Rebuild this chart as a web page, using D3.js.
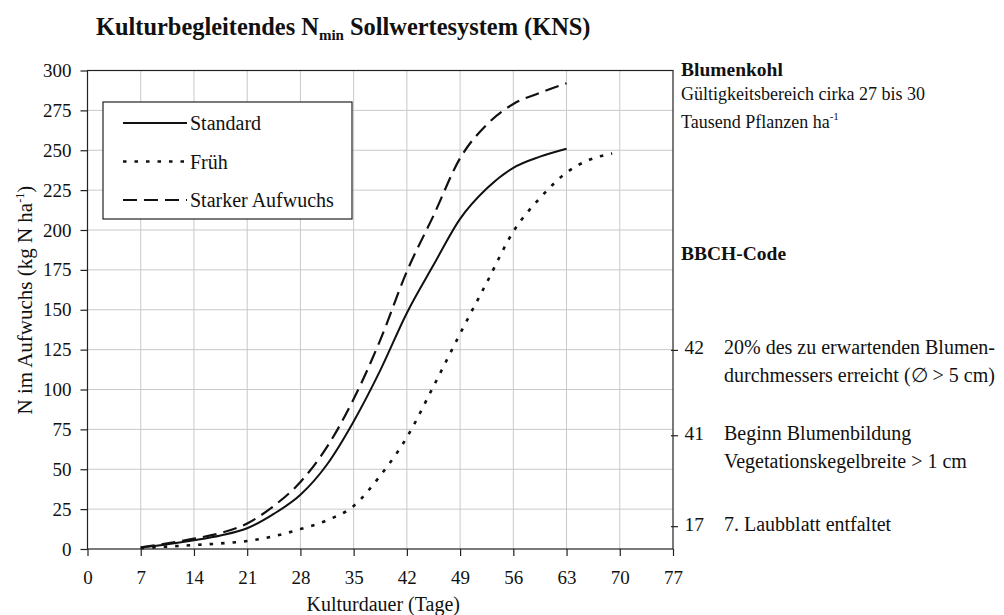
<!DOCTYPE html>
<html>
<head>
<meta charset="utf-8">
<script src="https://cdn.jsdelivr.net/npm/d3@7"></script>
<style>
  body { margin: 0; background: #fff; }
  svg { display: block; }
  text { font-family: "Liberation Serif", "Times New Roman", serif; fill: #111; }
</style>
</head>
<body>
<div id="chart"></div>
<script>
// days of cultivation at which the curves were read
const daysMain = [7, 10.5, 14, 17.5, 21, 24.5, 28, 31.5, 35, 38.5, 42, 45.5, 49, 52.5, 56, 59.5, 63]
const daysEarly = [7, 10.5, 14, 17.5, 21, 24.5, 28, 31.5, 35, 38.5, 42, 45.5, 49, 52.5, 56, 59.5, 63, 66, 69]

// N uptake (kg N/ha)
const standardValues = [1, 3, 5.5, 8.5, 13, 22, 34, 53, 80, 112, 148, 178, 207, 226, 239, 246, 251]
const strongValues = [1, 3.5, 6.5, 10, 16, 27, 42, 64, 94, 131, 174, 209, 245, 266, 279, 286, 292]
const earlyValues = [0.5, 1.5, 2.5, 3.5, 5, 8, 12.5, 18, 27, 46, 70, 102, 135, 167, 199, 220, 236, 244, 248]

const xTicks = [0, 7, 14, 21, 28, 35, 42, 49, 56, 63, 70, 77]
const yTicks = [0, 25, 50, 75, 100, 125, 150, 175, 200, 225, 250, 275, 300]

const seriesNames = ["Standard", "Früh", "Starker Aufwuchs"]

// BBCH stages marked on the right axis
const bbchCodes = ["17", "41", "42"]
const bbchLevels = [14, 71, 124.5]
const bbchTexts = [
  ["7. Laubblatt entfaltet"],
  ["Beginn Blumenbildung", "Vegetationskegelbreite > 1 cm"],
  ["20% des zu erwartenden Blumen-", "durchmessers erreicht  (∅ > 5 cm)"]
]

const config = {
  width: 1004,
  height: 615,
  margin: { top: 70.5, left: 87.5, right: 331, bottom: 66 },
  gridColor: "#c9c9c9",
  tickFont: 19,
  textFont: 20
}

const svg = d3.select("#chart").append("svg")
  .attr("width", config.width)
  .attr("height", config.height)

const plotW = config.width - config.margin.left - config.margin.right
const plotH = config.height - config.margin.top - config.margin.bottom

const x = d3.scaleLinear().domain([0, 77]).range([config.margin.left, config.margin.left + plotW])
const y = d3.scaleLinear().domain([0, 300]).range([config.margin.top + plotH, config.margin.top])

// grid
const grid = svg.append("g").attr("class", "grid")
grid.selectAll(".vgrid")
  .data(xTicks.slice(1, -1))
  .enter().append("line")
    .attr("x1", d => x(d)).attr("x2", d => x(d))
    .attr("y1", y(0)).attr("y2", y(300))
    .attr("stroke", config.gridColor)
grid.selectAll(".hgrid")
  .data(yTicks.slice(1, -1))
  .enter().append("line")
    .attr("x1", x(0)).attr("x2", x(77))
    .attr("y1", d => y(d)).attr("y2", d => y(d))
    .attr("stroke", config.gridColor)

// frame
svg.append("rect")
  .attr("x", x(0)).attr("y", y(300))
  .attr("width", plotW).attr("height", plotH)
  .attr("fill", "none")
  .attr("stroke", "#222")
  .attr("stroke-width", 1.2)

// axes
const xAxis = svg.append("g")
  .attr("transform", `translate(0,${y(0)})`)
  .call(d3.axisBottom(x).tickValues(xTicks).tickSize(7).tickPadding(15))
const yAxis = svg.append("g")
  .attr("transform", `translate(${x(0)},0)`)
  .call(d3.axisLeft(y).tickValues(yTicks).tickSize(7).tickPadding(9))

;[xAxis, yAxis].forEach(a => {
  a.select(".domain").remove()
  a.selectAll(".tick line").attr("stroke", "#222").attr("stroke-width", 1.2)
  a.selectAll(".tick text")
    .style("font-family", "Liberation Serif, serif")
    .style("font-size", `${config.tickFont}px`)
    .attr("fill", "#111")
})

// right axis with BBCH ticks
const bbch = svg.append("g").attr("class", "bbch")
const bbchData = bbchCodes.map((c, i) => ({code: c, level: bbchLevels[i], lines: bbchTexts[i]}))
bbch.selectAll("line")
  .data(bbchData)
  .enter().append("line")
    .attr("x1", x(77) - 2).attr("x2", x(77) + 5)
    .attr("y1", d => y(d.level)).attr("y2", d => y(d.level))
    .attr("stroke", "#222").attr("stroke-width", 1.2)
const bbchItem = bbch.selectAll(".item")
  .data(bbchData)
  .enter().append("g")
    .attr("class", "item")
bbchItem.append("text")
  .attr("x", 704).attr("y", d => y(d.level) + 4)
  .attr("text-anchor", "end")
  .style("font-size", "19.5px")
  .text(d => d.code)
bbchItem.each(function (d) {
  const sel = d3.select(this)
  d.lines.forEach((line, i) => {
    sel.append("text")
      .attr("x", 724).attr("y", y(d.level) + 4 + i * 28)
      .style("font-size", `${config.textFont}px`)
      .text(line)
  })
})

// lines
const line = d3.line()
  .x(d => x(d[0]))
  .y(d => y(d[1]))
  .curve(d3.curveMonotoneX)

const series = [
  {name: seriesNames[0], days: daysMain, values: standardValues, dash: null, width: 2},
  {name: seriesNames[1], days: daysEarly, values: earlyValues, dash: "3.5,8", width: 2.6},
  {name: seriesNames[2], days: daysMain, values: strongValues, dash: "14,7", width: 2.2}
]

svg.append("g").attr("class", "series")
  .selectAll("path")
  .data(series)
  .enter().append("path")
    .attr("d", d => line(d.days.map((day, i) => [day, d.values[i]])))
    .attr("fill", "none")
    .attr("stroke", "#111")
    .attr("stroke-width", d => d.width)
    .attr("stroke-dasharray", d => d.dash)

// legend
const legend = svg.append("g").attr("class", "legend")
legend.append("rect")
  .attr("x", 103).attr("y", 102)
  .attr("width", 249).attr("height", 117)
  .attr("fill", "#fff")
  .attr("stroke", "#222")
  .attr("stroke-width", 1.2)
const legendItem = legend.selectAll(".legend-item")
  .data(series)
  .enter().append("g")
    .attr("class", "legend-item")
    .attr("transform", (d, i) => `translate(0,${123 + i * 38.5})`)
legendItem.append("line")
  .attr("x1", 123).attr("x2", 187)
  .attr("stroke", "#111")
  .attr("stroke-width", d => d.width)
  .attr("stroke-dasharray", d => d.dash)
legendItem.append("text")
  .attr("x", 190).attr("y", 7)
  .style("font-size", "20px")
  .text(d => d.name)

// titles
const title = svg.append("text")
  .attr("x", 96).attr("y", 35)
  .style("font-size", "24.4px")
  .style("font-weight", "bold")
title.append("tspan").text("Kulturbegleitendes N")
title.append("tspan").attr("dy", 5).style("font-size", "15px").text("min")
title.append("tspan").attr("dy", -5).text(" Sollwertesystem (KNS)")

svg.append("text")
  .attr("x", x(38.5) + 3).attr("y", 611)
  .attr("text-anchor", "middle")
  .style("font-size", "20px")
  .text("Kulturdauer (Tage)")

const yLabel = svg.append("text")
  .attr("transform", `translate(32,${y(156)}) rotate(-90)`)
  .attr("text-anchor", "middle")
  .style("font-size", "21px")
yLabel.append("tspan").text("N im Aufwuchs (kg N ha")
yLabel.append("tspan").attr("dy", -8).style("font-size", "12px").text("-1")
yLabel.append("tspan").attr("dy", 8).text(")")

// side notes
const notes = svg.append("g").attr("class", "notes")
notes.append("text")
  .attr("x", 681).attr("y", 76)
  .style("font-size", "19.5px").style("font-weight", "bold")
  .text("Blumenkohl")
notes.append("text")
  .attr("x", 681).attr("y", 100)
  .style("font-size", "18px")
  .text("Gültigkeitsbereich cirka 27 bis 30")
const density = notes.append("text")
  .attr("x", 681).attr("y", 128)
  .style("font-size", "18px")
density.append("tspan").text("Tausend Pflanzen ha")
density.append("tspan").attr("dy", -8).style("font-size", "11px").text("-1")
notes.append("text")
  .attr("x", 681).attr("y", 260)
  .style("font-size", "19.5px").style("font-weight", "bold")
  .text("BBCH-Code")
</script>
</body>
</html>
